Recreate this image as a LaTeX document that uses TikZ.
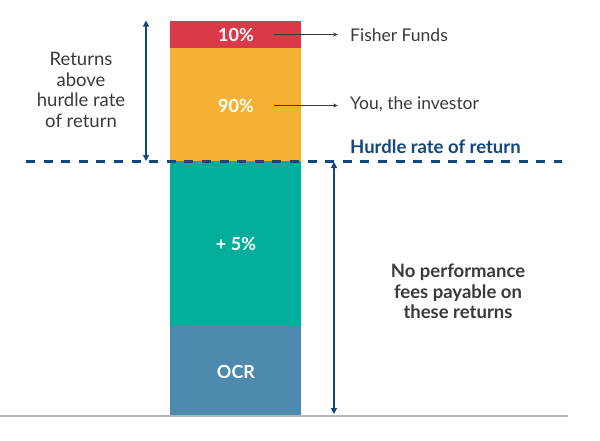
\documentclass[tikz,border=0pt]{standalone}
\usepackage{fontspec}
\setmainfont{Lato}
\usetikzlibrary{arrows.meta}
\definecolor{cred}{HTML}{DA3A47}
\definecolor{corange}{HTML}{F5B133}
\definecolor{cteal}{HTML}{00AE9B}
\definecolor{cblue}{HTML}{4E89AE}
\definecolor{cnavy}{HTML}{11467F}
\definecolor{ctext}{HTML}{3A3A3A}
\definecolor{cgray}{HTML}{B5B5B5}
\begin{document}
\begin{tikzpicture}[x=1pt,y=-1pt,
  seg/.style={draw=none,minimum width=131pt,inner sep=0pt,outer sep=0pt,anchor=north west},
  seglbl/.style={text=white,inner sep=0pt,font=\fontsize{18}{18}\selectfont\bfseries},
  lbl/.style={text=ctext,anchor=west,inner sep=0pt,font=\fontsize{17.5}{18}\selectfont},
  ptr/.style={draw=ctext,line width=0.8pt,-{Stealth[length=5pt,width=4pt]}},
  dim/.style={draw=cnavy,line width=1.2pt,{Triangle[length=6pt,width=6pt]}-{Triangle[length=6pt,width=6pt]}},
  note/.style={text=ctext,align=center,inner sep=0pt,font=\fontsize{18.5}{20.5}\selectfont\bfseries}]
\useasboundingbox (0,0) rectangle (600,440);
\node[seg,fill=cred,minimum height=27.5pt] (red) at (170,20.5) {};
\node[seg,fill=corange,minimum height=113pt] (orange) at (170,48) {};
\node[seg,fill=cteal,minimum height=165pt] (teal) at (170,161) {};
\node[seg,fill=cblue,minimum height=89pt] (blue) at (170,326) {};
\node[seglbl] (t10) at (236,34.5) {10\%};
\node[seglbl] (t90) at (236,106) {90\%};
\node[seglbl] (t5) at (236,243.5) {+ 5\%};
\node[seglbl] (tocr) at (236,372) {OCR};
% baseline
\coordinate (b0) at (0,416);
\coordinate (b1) at (568,416);
\draw[cgray,line width=1.5pt] (b0) -- (b1);
% hurdle dashed line
\coordinate (h0) at (26,161.5);
\coordinate (h1) at (562,161.5);
\draw[cnavy,line width=2.2pt,dash pattern=on 9pt off 8.6pt] (h0) -- (h1);
% pointers
\node[lbl] (ff) at (350,35) {Fisher Funds};
\node[lbl] (you) at (350,104) {You, the investor};
\node[lbl,text=cnavy,font=\fontsize{18.5}{18}\selectfont\bfseries] (hr) at (350,147) {Hurdle rate of return};
\coordinate (p1) at (274,34.5);
\coordinate (p2) at (274,105.5);
\draw[ptr] (p1) -- ([xshift=-12pt]ff.west |- p1);
\draw[ptr] (p2) -- ([xshift=-12pt]you.west |- p2);
% dimension arrows
\coordinate (l0) at (146,20.5);
\coordinate (l1) at (146,161);
\draw[dim] (l0) -- (l1);
\coordinate (r0) at (334,162);
\coordinate (r1) at (334,414);
\draw[dim] (r0) -- (r1);
\node[note,font=\fontsize{18.5}{20.5}\selectfont\mdseries] (above) at (81,90) {Returns\\above\\hurdle rate\\of return};
\node[note] (nofee) at (458,291.5) {No performance\\fees payable on\\these returns};
\end{tikzpicture}
\end{document}
